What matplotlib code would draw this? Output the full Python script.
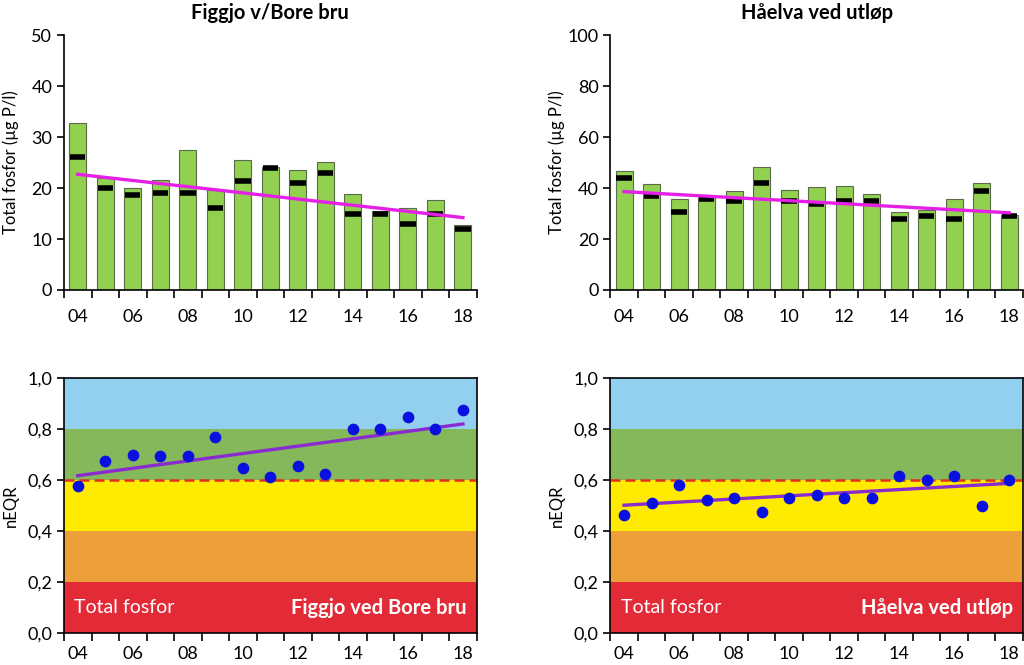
import matplotlib
matplotlib.use("Agg")
import matplotlib.pyplot as plt
import numpy as np

matplotlib.rcParams["font.family"] = ["Lato", "DejaVu Sans"]

years = ["04", "05", "06", "07", "08", "09", "10", "11", "12", "13", "14", "15", "16", "17", "18"]

# Figgjo v/Bore bru
figgjo_mean = [32.7, 22.0, 20.1, 21.6, 27.5, 19.7, 25.6, 24.2, 23.6, 25.1, 18.8, 15.5, 16.0, 17.6, 12.7]
figgjo_median = [26.0, 20.0, 18.7, 19.0, 19.0, 16.0, 21.4, 24.0, 21.0, 23.0, 15.0, 15.0, 13.0, 15.0, 12.0]
figgjo_trend = [22.7, 14.2]
figgjo_neqr = [0.578, 0.676, 0.701, 0.695, 0.695, 0.769, 0.650, 0.613, 0.656, 0.626,
               0.800, 0.800, 0.847, 0.800, 0.876]
figgjo_neqr_trend = [0.618, 0.821]

# Håelva ved utløp
haelva_mean = [46.7, 41.7, 35.7, 36.5, 38.8, 48.4, 39.3, 40.4, 40.9, 37.5, 30.5, 31.4, 35.9, 42.1, 29.4]
haelva_median = [44.0, 36.9, 30.5, 35.7, 34.9, 42.1, 34.9, 33.7, 34.9, 34.9, 27.8, 29.2, 27.8, 39.0, 29.0]
haelva_trend = [38.6, 30.3]
haelva_neqr = [0.464, 0.512, 0.580, 0.523, 0.532, 0.476, 0.532, 0.542, 0.532, 0.532,
               0.617, 0.601, 0.617, 0.498, 0.601]
haelva_neqr_trend = [0.502, 0.588]

band_edges = [0.0, 0.2, 0.4, 0.6, 0.8, 1.0]
band_colors = ["#E32B38", "#EDA03A", "#FFEB00", "#84B85A", "#93D0F0"]

x = np.arange(len(years))


def style_xaxis(ax, pad):
    ax.set_xlim(-0.5, len(years) - 0.5)
    ax.set_xticks(x[::2])
    ax.set_xticklabels(years[::2], fontsize=13)
    ax.set_xticks(np.arange(len(years) + 1) - 0.5, minor=True)
    ax.tick_params(axis="x", which="major", length=0, pad=pad)
    ax.tick_params(axis="x", which="minor", length=6, width=1.2, direction="out")
    ax.tick_params(axis="y", length=5, width=1.2, labelsize=13)


def bar_panel(ax, mean, median, trend, ymax, title):
    ax.bar(x, mean, width=0.62, color="#92D050", edgecolor="#5a6b4a", linewidth=0.8, zorder=2)
    ax.hlines(median, x - 0.28, x + 0.28, color="black", linewidth=4, zorder=3)
    ax.plot([x[0], x[-1]], trend, color="#E61FE6", linewidth=2.4, zorder=4)
    ax.set_ylim(0, ymax)
    ax.set_yticks(np.linspace(0, ymax, 6))
    ax.set_ylabel("Total fosfor (µg P/l)", fontsize=12)
    ax.set_title(title, fontsize=14.5, fontweight="bold", pad=12)
    ax.spines["top"].set_visible(False)
    ax.spines["right"].set_visible(False)
    for s in ["left", "bottom"]:
        ax.spines[s].set_linewidth(1.2)
    style_xaxis(ax, 14)


def neqr_panel(ax, values, trend, name):
    for i in range(len(band_colors)):
        ax.axhspan(band_edges[i], band_edges[i + 1], color=band_colors[i], zorder=0, linewidth=0)
    ax.axhline(0.6, color="#E0301E", linestyle=(0, (4, 2)), linewidth=1.8, zorder=2)
    ax.plot([x[0], x[-1]], trend, color="#8A2BD0", linewidth=2.4, zorder=3)
    ax.scatter(x, values, s=55, color="#0A10E0", zorder=4)
    ax.set_ylim(0, 1.0)
    ax.set_yticks(band_edges)
    ax.set_yticklabels([f"{v:.1f}".replace(".", ",") for v in band_edges])
    ax.set_ylabel("nEQR", fontsize=12)
    ax.text(0.025, 0.1, "Total fosfor", transform=ax.transAxes, color="white",
            fontsize=14, ha="left", va="center")
    ax.text(0.975, 0.1, name, transform=ax.transAxes, color="white",
            fontsize=14.5, fontweight="bold", ha="right", va="center")
    for s in ax.spines.values():
        s.set_linewidth(1.2)
    style_xaxis(ax, 9)


fig = plt.figure(figsize=(10.24, 6.65), dpi=100)
ax1 = fig.add_axes([0.0625, 0.564, 0.403, 0.383])
ax2 = fig.add_axes([0.596, 0.564, 0.403, 0.383])
ax3 = fig.add_axes([0.0625, 0.048, 0.403, 0.383])
ax4 = fig.add_axes([0.596, 0.048, 0.403, 0.383])

bar_panel(ax1, figgjo_mean, figgjo_median, figgjo_trend, 50, "Figgjo v/Bore bru")
bar_panel(ax2, haelva_mean, haelva_median, haelva_trend, 100, "Håelva ved utløp")
neqr_panel(ax3, figgjo_neqr, figgjo_neqr_trend, "Figgjo ved Bore bru")
neqr_panel(ax4, haelva_neqr, haelva_neqr_trend, "Håelva ved utløp")

for ax in [ax1, ax2, ax3, ax4]:
    ax.yaxis.set_label_coords(-0.11, 0.5)

fig.savefig("out.png", dpi=100)
